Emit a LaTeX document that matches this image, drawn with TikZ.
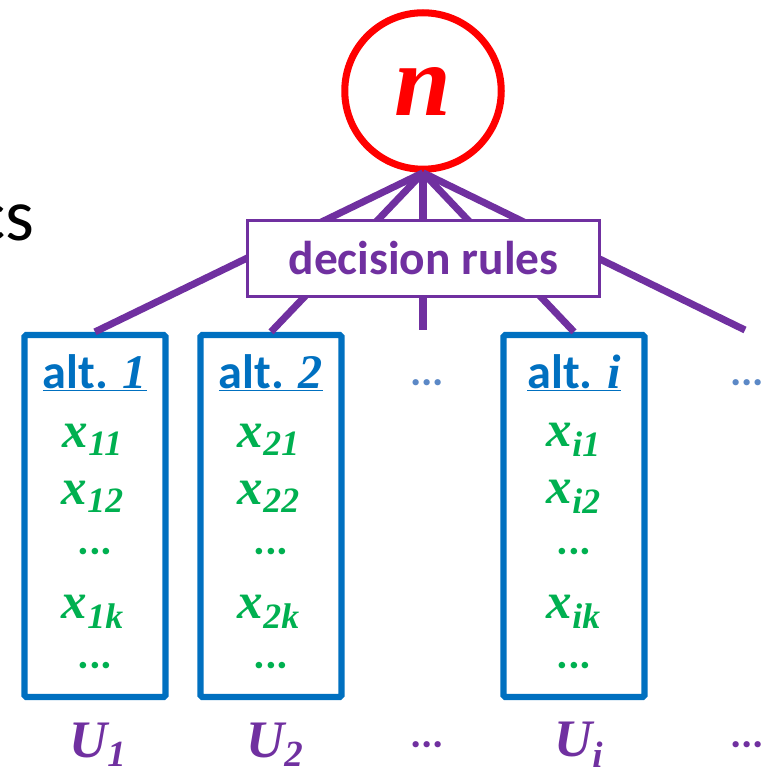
\documentclass[tikz,border=0pt]{standalone}
\usepackage{fontspec}
\setmainfont{Carlito}
\newfontfamily\serifbi[BoldItalicFont={* Bold Italic}]{Liberation Serif}
\usetikzlibrary{positioning}

\definecolor{rulepurple}{HTML}{7030A0}
\definecolor{altblue}{HTML}{0070C0}
\definecolor{attrgreen}{HTML}{00B050}
\definecolor{dotblue}{HTML}{5B88C6}

\newcommand{\attr}[1]{{\serifbi\bfseries\itshape x\textsubscript{#1}}}
\newcommand{\util}[1]{{\serifbi\bfseries\itshape U\textsubscript{#1}}}
\newcommand{\altname}[1]{\underline{\bfseries alt. {\serifbi\itshape #1}}}

\tikzset{
  altbox/.style={draw=altblue,line width=3.6pt,rounded corners=1pt,minimum width=2.82cm,minimum height=7.24cm,inner sep=0pt},
  altlabel/.style={text=altblue,font=\fontsize{27.5}{27.5}\selectfont},
  attrlabel/.style={text=attrgreen,font=\fontsize{29}{29}\selectfont},
  attrdots/.style={text=attrgreen,font=\fontsize{25}{25}\selectfont\bfseries},
  utillabel/.style={text=rulepurple,font=\fontsize{30}{30}\selectfont},
  link/.style={draw=rulepurple,line width=4pt},
}

\begin{document}
\begin{tikzpicture}[x=0.02cm,y=-0.02cm]
    \useasboundingbox (0,0) rectangle (761,767);
    % the chooser
    \node [circle,draw=red,line width=4pt,minimum size=3.13cm,inner sep=0pt,font=\fontsize{58}{58}\selectfont] (chooser) at (423,91) {\textcolor{red}{\serifbi\bfseries\itshape n}};
    \node [anchor=base east,inner sep=0pt,font=\fontsize{42}{42}\selectfont] (topic) at (35,240) {cs};
    % the alternatives
    \node [altbox] (alt1) at (95,516) {};
    \node [altbox] (alt2) at (271,516) {};
    \node [altbox] (alti) at (574,516) {};
    \coordinate (midend) at (423,330);
    \coordinate (rightend) at (745,330);
    \draw [link] (chooser.south) -- (alt1.north);
    \draw [link] (chooser.south) -- (alt2.north);
    \draw [link] (chooser.south) -- (midend);
    \draw [link] (chooser.south) -- (alti.north);
    \draw [link] (chooser.south) -- (rightend);
    \node [draw=rulepurple,line width=1.2pt,fill=white,minimum width=7.04cm,minimum height=1.52cm,text=rulepurple,font=\fontsize{27}{27}\selectfont\bfseries] (rules) at (423.5,258.5) {decision rules};
    % column 1
    \node [altlabel] (head1) at (95,373) {\altname{1}};
    \node [attrlabel] (x11) at (93,440) {\attr{11}};
    \node [attrlabel] (x12) at (93,497) {\attr{12}};
    \node [attrdots] (dots1a) at (95,552) {...};
    \node [attrlabel] (x1k) at (93,612) {\attr{1k}};
    \node [attrdots] (dots1b) at (95,666) {...};
    % column 2
    \node [altlabel] (head2) at (271,373) {\altname{2}};
    \node [attrlabel] (x21) at (269,440) {\attr{21}};
    \node [attrlabel] (x22) at (269,497) {\attr{22}};
    \node [attrdots] (dots2a) at (271,552) {...};
    \node [attrlabel] (x2k) at (269,612) {\attr{2k}};
    \node [attrdots] (dots2b) at (271,666) {...};
    % column i
    \node [altlabel] (headi) at (574,373) {\altname{i}};
    \node [attrlabel] (xi1) at (574,440) {\attr{i1}};
    \node [attrlabel] (xi2) at (574,497) {\attr{i2}};
    \node [attrdots] (dotsia) at (574,552) {...};
    \node [attrlabel] (xik) at (574,612) {\attr{ik}};
    \node [attrdots] (dotsib) at (574,666) {...};
    % gaps
    \node [text=dotblue,font=\fontsize{24}{24}\selectfont\bfseries] (gapmid) at (427,383) {...};
    \node [text=dotblue,font=\fontsize{24}{24}\selectfont\bfseries] (gapright) at (747,383) {...};
    % utilities
    \node [utillabel] (u1) at (98,745) {\util{1}};
    \node [utillabel] (u2) at (275,745) {\util{2}};
    \node [text=rulepurple,font=\fontsize{24}{24}\selectfont\bfseries] (udots1) at (427,745) {...};
    \node [utillabel] (ui) at (579,745) {\util{i}};
    \node [text=rulepurple,font=\fontsize{24}{24}\selectfont\bfseries] (udots2) at (747,745) {...};
\end{tikzpicture}
\end{document}
